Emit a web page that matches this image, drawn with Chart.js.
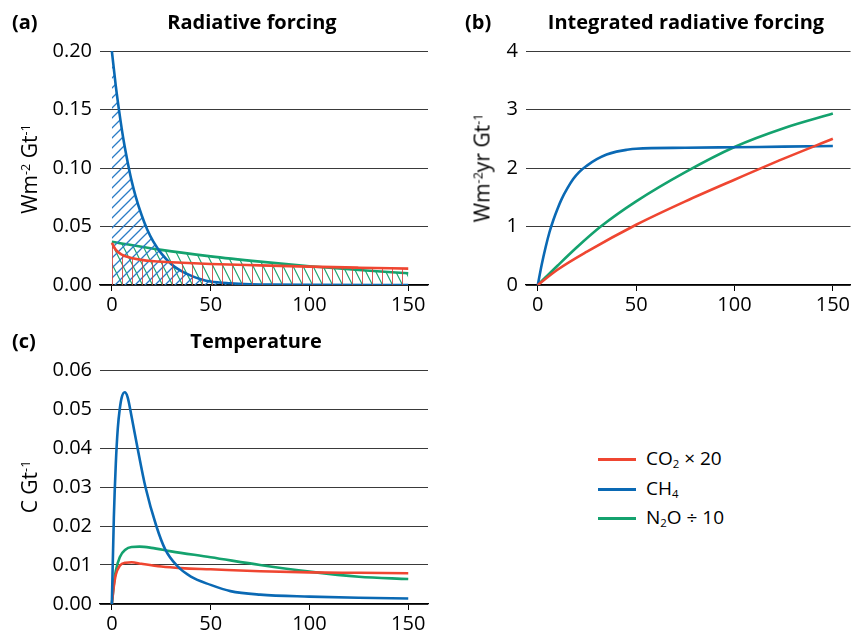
<!DOCTYPE html>
<html>
<head>
<meta charset="utf-8">
<script src="https://cdn.jsdelivr.net/npm/chart.js@4.4.1/dist/chart.umd.min.js"></script>
<style>
  html, body { margin: 0; padding: 0; background: #fff; }
  body { width: 852px; height: 637px; position: relative; overflow: hidden; font-family: "Open Sans", "Noto Sans", sans-serif; color: #000; }
  canvas { position: absolute; }
  .t { position: absolute; font-weight: bold; font-size: 20px; white-space: nowrap; line-height: 1; }
  .yl { position: absolute; font-size: 21px; white-space: nowrap; line-height: 1; transform: translate(-50%, -50%) rotate(-90deg); }
  .yl sup, .lg sub { font-size: 60%; }
  .yl sup { vertical-align: 0.55em; }
  .lg { position: absolute; font-size: 19px; white-space: nowrap; line-height: 1; }
  .lg sub { vertical-align: -0.3em; }
  .sw { position: absolute; height: 3px; width: 38px; }
</style>
</head>
<body>
<canvas id="ca" width="430" height="320" style="left:0;top:0"></canvas>
<canvas id="cb" width="422" height="320" style="left:430px;top:0"></canvas>
<canvas id="cc" width="430" height="318" style="left:0;top:319px"></canvas>

<div class="t" style="left:12px;top:12px">(a)</div>
<div class="t" style="left:252px;top:12px;transform:translateX(-50%)">Radiative forcing</div>
<div class="t" style="left:465px;top:12px">(b)</div>
<div class="t" style="left:686px;top:12px;transform:translateX(-50%)">Integrated radiative forcing</div>
<div class="t" style="left:12px;top:331px">(c)</div>
<div class="t" style="left:256px;top:331px;transform:translateX(-50%)">Temperature</div>

<div class="yl" style="left:29px;top:169px">Wm<sup>-2</sup> Gt<sup>-1</sup></div>
<div class="yl" style="left:482px;top:168px">Wm<sup>-2</sup>yr Gt<sup>-1</sup></div>
<div class="yl" style="left:29px;top:487px">C Gt<sup>-1</sup></div>

<div class="sw" style="left:598px;top:458px;background:#ef4631"></div>
<div class="lg" style="left:646px;top:449px">CO<sub>2</sub> × 20</div>
<div class="sw" style="left:598px;top:488px;background:#0a69b4"></div>
<div class="lg" style="left:646px;top:479px">CH<sub>4</sub></div>
<div class="sw" style="left:598px;top:517px;background:#14a26e"></div>
<div class="lg" style="left:646px;top:508px">N<sub>2</sub>O ÷ 10</div>

<script>
// ---------- data ----------
const xTicks = [0, 50, 100, 150];

// (a) Radiative forcing, W m-2 Gt-1
const rfCO2_x = [0, 2, 5, 10, 15, 20, 30, 50, 75, 100, 125, 150];
const rfCO2_y = [0.036, 0.030, 0.026, 0.023, 0.0215, 0.0205, 0.0195, 0.018, 0.0168, 0.0157, 0.0148, 0.014];
const rfCH4_x = [0, 2, 4, 6, 8, 10, 12, 15, 18, 21, 25, 30, 35, 40, 45, 50, 60, 70, 80, 100, 150];
const rfCH4_y = [0.2, 0.170, 0.145, 0.123, 0.105, 0.089, 0.076, 0.060, 0.047, 0.037, 0.027, 0.018, 0.012, 0.008, 0.005, 0.003, 0.0015, 0.0007, 0.0003, 0.0001, 0];
const rfN2O_x = [0, 25, 50, 75, 100, 125, 150];
const rfN2O_y = [0.037, 0.030, 0.0245, 0.020, 0.016, 0.0128, 0.010];
const rfTicks = [0, 0.05, 0.10, 0.15, 0.20];

// (b) Integrated radiative forcing, W m-2 yr Gt-1
const irfCO2_x = [0, 10, 25, 50, 75, 100, 125, 150];
const irfCO2_y = [0, 0.26, 0.57, 1.03, 1.43, 1.80, 2.16, 2.50];
const irfCH4_x = [0, 2, 4, 6, 8, 10, 12, 15, 18, 21, 25, 30, 35, 40, 45, 50, 75, 100, 125, 150];
const irfCH4_y = [0, 0.35, 0.65, 0.91, 1.12, 1.30, 1.46, 1.65, 1.81, 1.93, 2.04, 2.15, 2.23, 2.28, 2.31, 2.33, 2.345, 2.355, 2.365, 2.375];
const irfN2O_x = [0, 10, 20, 32, 50, 75, 100, 125, 150];
const irfN2O_y = [0, 0.33, 0.65, 1.0, 1.43, 1.93, 2.36, 2.68, 2.93];
const irfTicks = [0, 1, 2, 3, 4];

// (c) Temperature, C Gt-1
const tCO2_x = [0, 1, 2, 4, 7, 10, 15, 25, 35, 50, 75, 100, 125, 150];
const tCO2_y = [0, 0.0045, 0.0075, 0.0098, 0.0106, 0.0107, 0.0103, 0.0096, 0.0092, 0.0089, 0.0084, 0.0081, 0.0080, 0.0079];
const tCH4_x = [0, 1, 2, 3, 4, 5, 6.5, 8, 10, 13, 17, 22.5, 27, 32.6, 40, 50, 60, 75, 100, 125, 150];
const tCH4_y = [0, 0.022, 0.036, 0.045, 0.050, 0.053, 0.0543, 0.053, 0.048, 0.040, 0.030, 0.020, 0.014, 0.010, 0.007, 0.0049, 0.0033, 0.0024, 0.0019, 0.0016, 0.0014];
const tN2O_x = [0, 1, 2, 4, 7, 10, 14, 20, 30, 50, 75, 100, 125, 150];
const tN2O_y = [0, 0.005, 0.0085, 0.0120, 0.0140, 0.0146, 0.0147, 0.0144, 0.0135, 0.0120, 0.0100, 0.0083, 0.0070, 0.0064];
const tTicks = [0, 0.01, 0.02, 0.03, 0.04, 0.05, 0.06];

// ---------- styles ----------
const RED = '#ef4631', BLUE = '#0a69b4', GREEN = '#14a26e';
const FONT = '"Open Sans", "Noto Sans", sans-serif';

function pts(xs, ys) { return xs.map((x, i) => ({ x: x, y: ys[i] })); }

function makePattern(kind, color, lw) {
  const c = document.createElement('canvas');
  if (kind === 'back') { c.width = 10; c.height = 20; } else { c.width = 10; c.height = 10; }
  const g = c.getContext('2d');
  g.strokeStyle = color; g.lineWidth = lw || 1;
  g.beginPath();
  if (kind === 'slash') {
    for (let k = -1; k <= 1; k++) { g.moveTo(k * 10 - 2, 12); g.lineTo(k * 10 + 12, -2); }
  } else if (kind === 'back') {
    for (let k = -1; k <= 1; k++) { g.moveTo(k * 10 - 0.5, -1); g.lineTo(k * 10 + 10.5, 21); }
  } else {
    g.moveTo(2.5, 0); g.lineTo(2.5, 10);
  }
  g.stroke();
  return g.createPattern(c, 'repeat');
}

function ds(label, data, color, order, fillPattern) {
  return {
    label: label, data: data, borderColor: color, borderWidth: 2.6,
    pointRadius: 0, cubicInterpolationMode: 'monotone',
    fill: fillPattern ? 'origin' : false,
    backgroundColor: fillPattern || 'transparent',
    order: order
  };
}

function opts(yMin, yMax, yTicks, yFmt, yWidth, xMin, xMax, xHeight, padTop, padRight) {
  return {
    responsive: false, animation: false, devicePixelRatio: 1,
    layout: { padding: { top: padTop, right: padRight, left: 0, bottom: 0 } },
    plugins: { legend: { display: false }, tooltip: { enabled: false } },
    scales: {
      x: {
        type: 'linear', min: xMin, max: xMax,
        afterBuildTicks: s => { s.ticks = xTicks.map(v => ({ value: v })); },
        afterFit: s => { s.height = xHeight; },
        grid: { drawOnChartArea: false, drawTicks: true, tickLength: 6, color: '#000', lineWidth: 1 },
        border: { display: true, color: '#000', width: 1.3 },
        ticks: { color: '#000', font: { family: FONT, size: 20 }, padding: 2, maxRotation: 0 }
      },
      y: {
        type: 'linear', min: yMin, max: yMax,
        afterBuildTicks: s => { s.ticks = yTicks.map(v => ({ value: v })); },
        afterFit: s => { s.width = yWidth; },
        grid: { drawTicks: false, color: '#3a3a3a', lineWidth: 1 },
        border: { display: false },
        ticks: { color: '#000', font: { family: FONT, size: 20 }, padding: 8, callback: yFmt }
      }
    }
  };
}

new Chart(document.getElementById('ca'), {
  type: 'line',
  data: { datasets: [
    ds('CO2 × 20', pts(rfCO2_x, rfCO2_y), RED, 0, makePattern('vert', 'rgba(214,62,60,0.85)', 1)),
    ds('CH4', pts(rfCH4_x, rfCH4_y), BLUE, 1, makePattern('slash', '#2a7cc6', 1.3)),
    ds('N2O ÷ 10', pts(rfN2O_x, rfN2O_y), GREEN, 2, makePattern('back', GREEN, 1.1))
  ] },
  options: opts(0, 0.2, rfTicks, v => v.toFixed(2), 100, -6, 160, 35, 51, 2)
});

new Chart(document.getElementById('cb'), {
  type: 'line',
  data: { datasets: [
    ds('CO2 × 20', pts(irfCO2_x, irfCO2_y), RED, 0),
    ds('CH4', pts(irfCH4_x, irfCH4_y), BLUE, 1),
    ds('N2O ÷ 10', pts(irfN2O_x, irfN2O_y), GREEN, 2)
  ] },
  options: opts(0, 4, irfTicks, v => String(v), 96, -6, 159, 35, 51, 0)
});

new Chart(document.getElementById('cc'), {
  type: 'line',
  data: { datasets: [
    ds('CO2 × 20', pts(tCO2_x, tCO2_y), RED, 1),
    ds('CH4', pts(tCH4_x, tCH4_y), BLUE, 0),
    ds('N2O ÷ 10', pts(tN2O_x, tN2O_y), GREEN, 2)
  ] },
  options: opts(0, 0.06, tTicks, v => v.toFixed(2), 100, -6, 160, 33, 51, 2)
});
</script>
</body>
</html>
